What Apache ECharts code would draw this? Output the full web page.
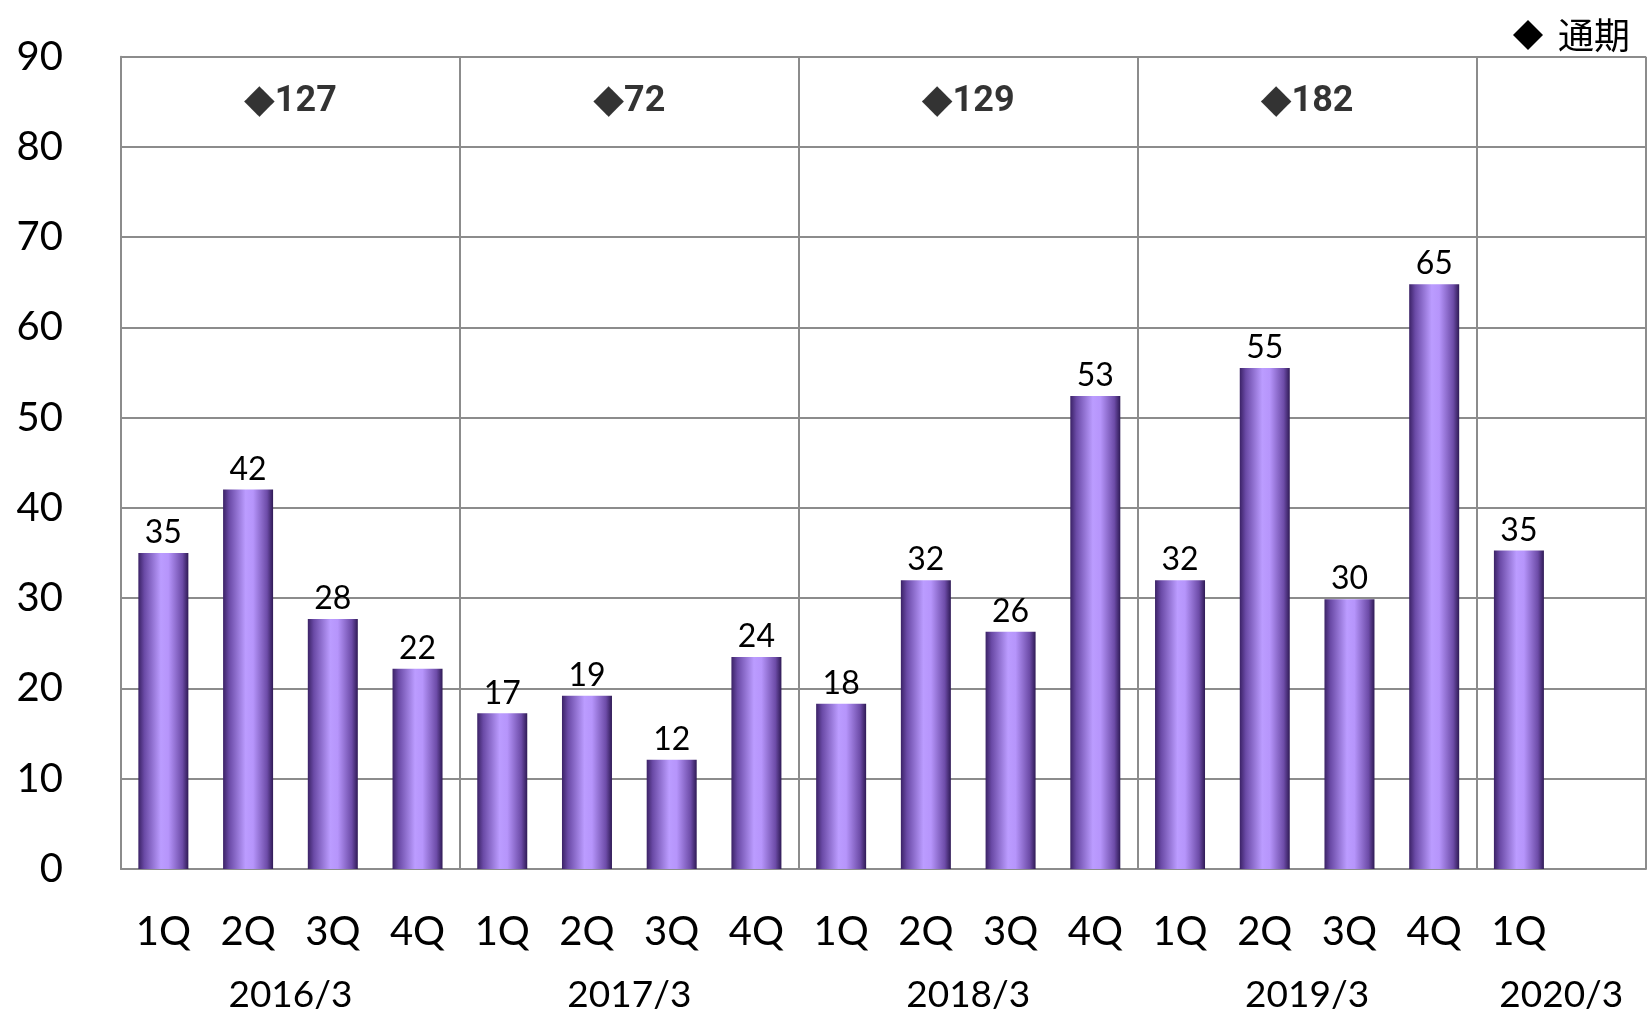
<!DOCTYPE html>
<html>
<head>
<meta charset="utf-8">
<script src="https://cdn.jsdelivr.net/npm/echarts@6/dist/echarts.min.js"></script>
<style>
html,body{margin:0;padding:0;background:#fff;}
#c{width:1649px;height:1014px;}
</style>
</head>
<body>
<div id="c"></div>
<script>
const quarters = ['1Q','2Q','3Q','4Q','1Q','2Q','3Q','4Q','1Q','2Q','3Q','4Q','1Q','2Q','3Q','4Q','1Q',''];
const quarterValues = [35.0, 42.05, 27.7, 22.2, 17.25, 19.2, 12.1, 23.5, 18.3, 32.0, 26.3, 52.4, 32.0, 55.5, 29.9, 64.8, 35.3, null];
const quarterLabels = [35, 42, 28, 22, 17, 19, 12, 24, 18, 32, 26, 53, 32, 55, 30, 65, 35, null];
const years = ['2016/3','2017/3','2018/3','2019/3','2020/3'];
const yearSizes = [4, 4, 4, 4, 2];
const annualTotals = [127, 72, 129, 182];
const yTicks = [0,10,20,30,40,50,60,70,80,90];

const grid = '#8c8c8c';
const centers = [];
let acc = 0;
yearSizes.forEach(s => { centers.push(acc + s / 2); acc += s; });
const annualData = annualTotals.map((v, i) => [centers[i], 85, v]);

const chart = echarts.init(document.getElementById('c'));
chart.setOption({
  animation: false,
  backgroundColor: '#fff',
  grid: { left: 121, right: 0, top: 56.7, bottom: 145, containLabel: false },
  legend: {
    data: [{ name: '通期', icon: 'diamond', itemStyle: { color: '#000', opacity: 1 } }],
    right: 14, top: 12,
    itemWidth: 30, itemHeight: 30,
    textStyle: { fontSize: 36, fontFamily: 'Noto Sans CJK JP', color: '#000', padding: [0, 0, 0, 10] }
  },
  xAxis: [
    {
      type: 'category',
      data: quarters,
      boundaryGap: true,
      axisLine: { show: true, lineStyle: { color: grid, width: 2 } },
      axisTick: { show: false },
      axisLabel: { fontSize: 40, fontFamily: 'Lato', color: '#000', margin: 43, interval: 0 },
      splitLine: {
        show: true,
        interval: function (index) {
          let a = 0;
          for (const s of yearSizes) { if (index === a) return true; a += s; }
          return false;
        },
        lineStyle: { color: grid, width: 2 }
      }
    },
    {
      type: 'value',
      min: 0, max: quarters.length, interval: 1,
      position: 'bottom',
      axisLine: { show: false },
      axisTick: { show: false },
      splitLine: { show: false },
      axisLabel: {
        fontSize: 37, fontFamily: 'Lato', color: '#000', margin: 108,
        showMinLabel: true, showMaxLabel: true,
        formatter: function (v) {
          const i = centers.indexOf(v);
          return i >= 0 ? years[i] : '';
        }
      }
    }
  ],
  yAxis: {
    type: 'value',
    min: 0, max: 90, interval: 10,
    axisLine: { show: true, lineStyle: { color: grid, width: 2 } },
    axisTick: { show: false },
    axisLabel: {
      fontSize: 40, fontFamily: 'Lato', color: '#000', margin: 58,
      formatter: v => yTicks.includes(v) ? String(v) : ''
    },
    splitLine: { show: true, lineStyle: { color: grid, width: 2 } }
  },
  series: [
    {
      name: '四半期',
      type: 'bar',
      data: quarterValues,
      barWidth: 50,
      itemStyle: {
        color: new echarts.graphic.LinearGradient(0, 0, 1, 0, [
          { offset: 0, color: '#3b2266' },
          { offset: 0.12, color: '#6a4aa6' },
          { offset: 0.45, color: '#bb9cff' },
          { offset: 0.6, color: '#b695fb' },
          { offset: 0.88, color: '#6d4ca8' },
          { offset: 1, color: '#2f1a55' }
        ])
      },
      label: {
        show: true, position: 'top', distance: 4,
        fontSize: 32, fontFamily: 'Lato', color: '#000',
        formatter: p => quarterLabels[p.dataIndex] == null ? '' : String(quarterLabels[p.dataIndex])
      }
    },
    {
      name: '通期',
      type: 'scatter',
      xAxisIndex: 1,
      yAxisIndex: 0,
      symbol: 'diamond',
      symbolSize: 2,
      itemStyle: { color: 'rgba(0,0,0,0)' },
      data: annualData,
      label: {
        show: true, position: 'inside',
        formatter: p => '{d|◆}{n|' + p.value[2] + '}',
        rich: {
          d: { fontSize: 40, fontFamily: 'DejaVu Sans', color: '#000' },
          n: { fontSize: 36, fontFamily: 'Roboto', fontWeight: 'bold', color: '#000' }
        }
      }
    }
  ]
});
</script>
</body>
</html>
